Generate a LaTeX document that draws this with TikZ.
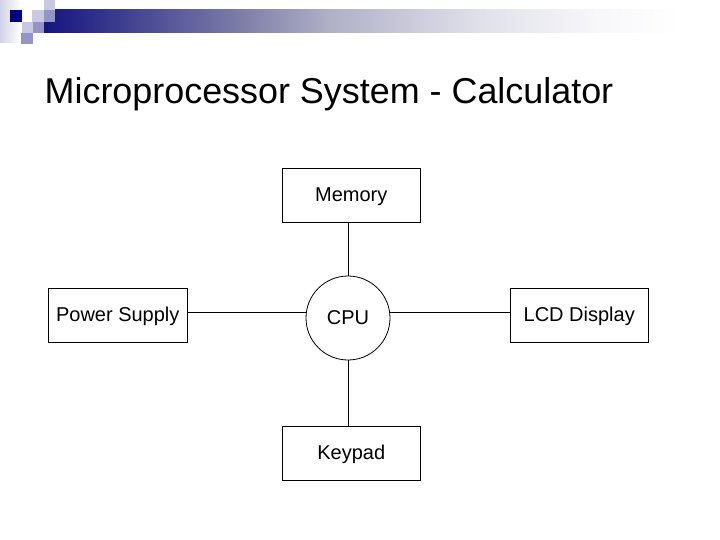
\documentclass[tikz,border=0pt]{standalone}
\usepackage{fontspec}
\setmainfont{Liberation Sans}
\pgfdeclarehorizontalshading{barshade}{100bp}{
  rgb(0bp)=(0.08,0.08,0.50);
  rgb(25bp)=(0.08,0.08,0.50);
  rgb(39.5bp)=(0.49,0.49,0.66);
  rgb(46.1bp)=(0.69,0.69,0.78);
  rgb(57.2bp)=(0.88,0.88,0.92);
  rgb(66bp)=(0.97,0.97,0.98);
  rgb(72bp)=(1,1,1);
  rgb(100bp)=(1,1,1)}
\definecolor{deco navy}{HTML}{000080}
\definecolor{deco light}{HTML}{C8C8E2}
\definecolor{deco mid}{HTML}{9494C6}
\tikzset{
  block/.style={draw=black,line width=0.8bp,fill=white,minimum width=138.5bp,minimum height=54bp,inner sep=0pt,text height=14bp,text depth=0.6bp,font=\fontsize{20bp}{24bp}\selectfont},
  hub/.style={draw=black,line width=0.8bp,fill=white,circle,minimum size=84bp,inner sep=0pt,text height=13bp,text depth=0.4bp,font=\fontsize{20bp}{24bp}\selectfont},
  wire/.style={draw=black,line width=0.8bp},
  heading/.style={anchor=west,inner sep=0pt,font=\fontsize{35.9bp}{42bp}\selectfont}
}
\begin{document}
\begin{tikzpicture}[x=1bp,y=-1bp]
\useasboundingbox (0,0) rectangle (720,540);
\fill[white] (0,0) rectangle (720,540);
% slide decoration
\shade[left color=deco light!80!white,right color=white] (0,0) rectangle (21,43);
\fill[white] (22,0) rectangle (44,22);
\shade[shading=barshade] (44,10) rectangle (720,33);
\fill[white] (44,0) rectangle (55,10);
\fill[deco navy] (10,10) rectangle (22,22);
\fill[deco light] (32,10) rectangle (44,22);
\fill[deco light] (44,0) rectangle (55,10);
\fill[deco mid] (44,10) rectangle (55,22);
\fill[deco light] (22,22) rectangle (33,33);
\fill[deco mid] (33,22) rectangle (44,33);
\fill[deco mid] (21,33) rectangle (33,44);
% title
\node[heading] (title) at (44.5,94) {Microprocessor System - Calculator};
% blocks
\node[block] (mem) at (351.25,195) {Memory};
\node[block] (key) at (351.25,453) {Keypad};
\node[block] (psu) at (117.75,315) {Power Supply};
\node[block] (lcd) at (579.25,315) {LCD Display};
\node[hub] (cpu) at (348,318) {CPU};
% connectors
\draw[wire] (mem.south -| cpu.north) -- (cpu.north);
\draw[wire] (cpu.south) -- (key.north -| cpu.south);
\coordinate (psuy) at ([yshift=3bp]psu.east);
\coordinate (lcdy) at ([yshift=3bp]lcd.west);
\draw[wire] (psuy) -- (psuy -| cpu.west);
\draw[wire] (lcdy) -- (lcdy -| cpu.east);
\end{tikzpicture}
\end{document}
